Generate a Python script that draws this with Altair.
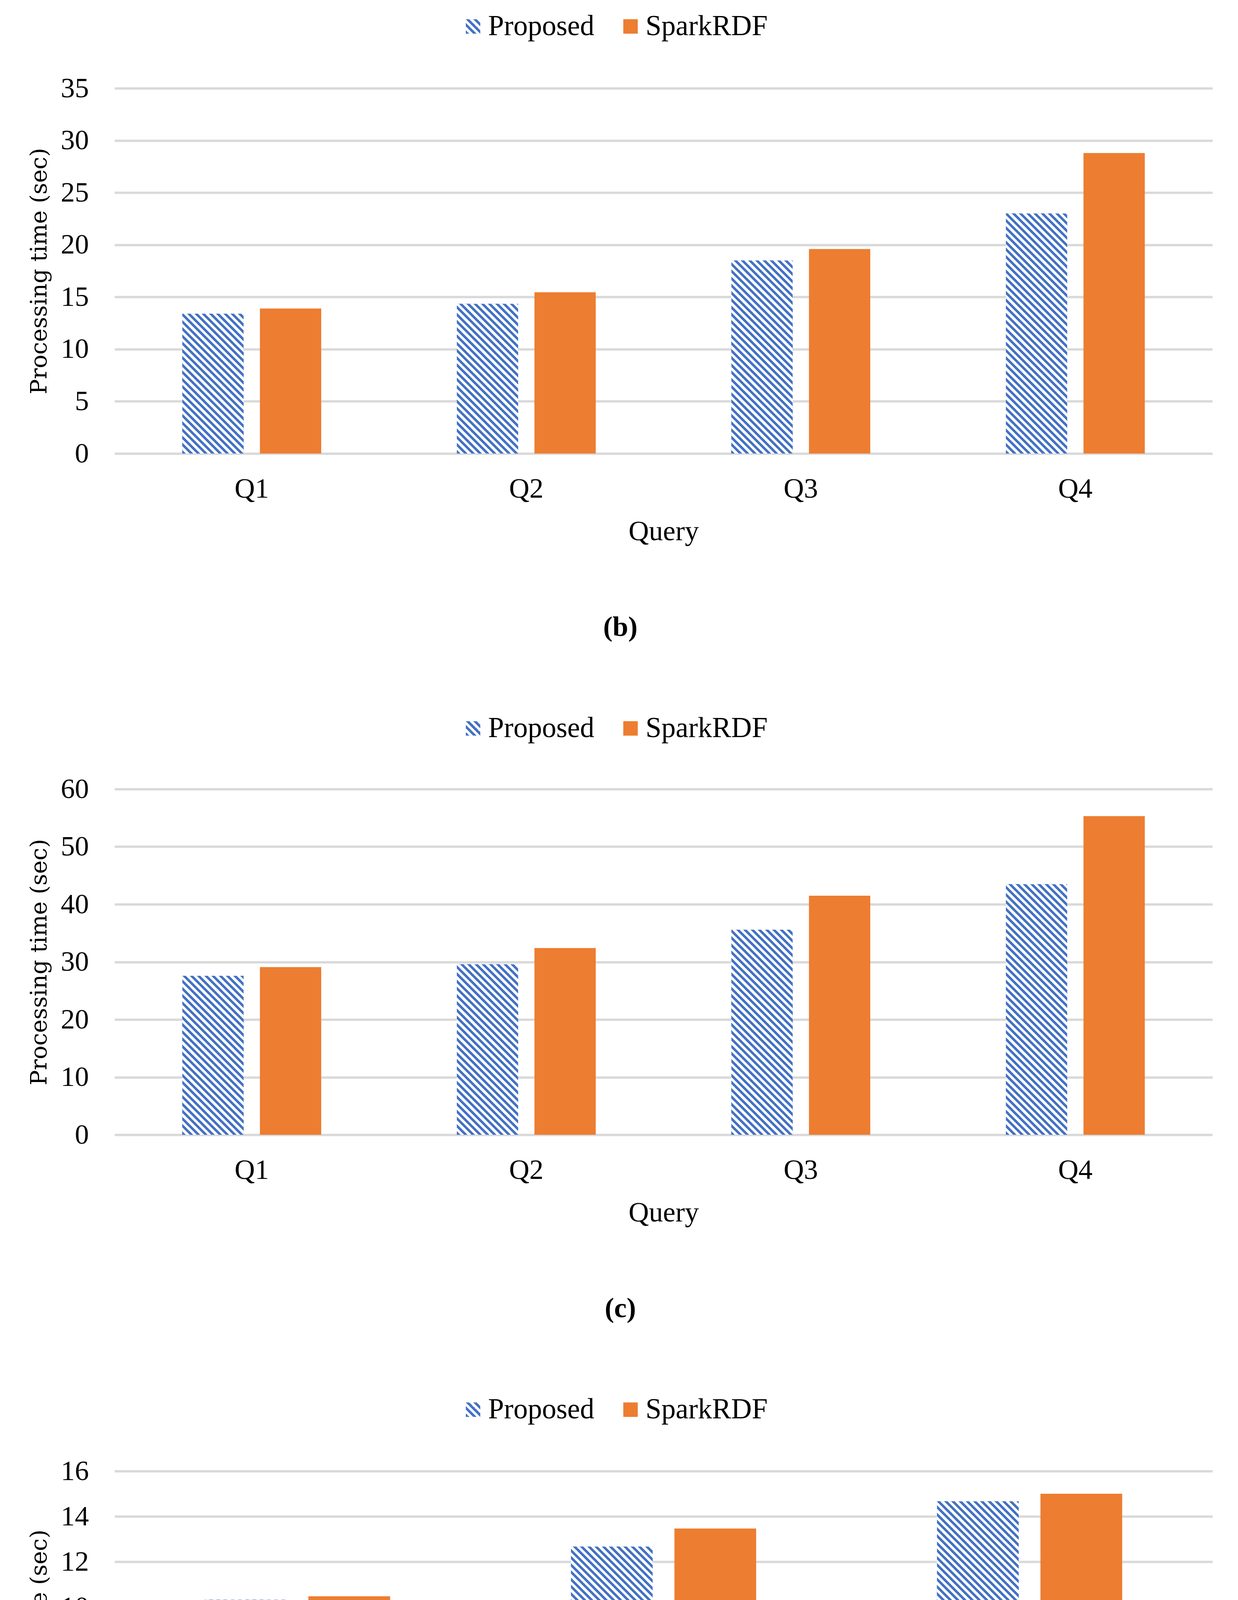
import altair as alt

FONT = "Liberation Serif"
TITLE_FONT = "DejaVu Serif"
BLUE = "#4472C4"
ORANGE = "#ED7D31"
GRID = "#D9D9D9"

series_names = ["Proposed", "SparkRDF"]

# Panel (b)
queries_b = ["Q1", "Q2", "Q3", "Q4"]
proposed_b = [13.4, 14.35, 18.5, 23.0]
spark_b = [13.9, 15.45, 19.6, 28.8]
ticks_b = [0, 5, 10, 15, 20, 25, 30, 35]

# Panel (c)
queries_c = ["Q1", "Q2", "Q3", "Q4"]
proposed_c = [27.6, 29.6, 35.6, 43.5]
spark_c = [29.1, 32.4, 41.5, 55.3]
ticks_c = [0, 10, 20, 30, 40, 50, 60]

# Panel (d)
queries_d = ["Q1", "Q2", "Q3"]
proposed_d = [10.33, 12.67, 14.67]
spark_d = [10.48, 13.47, 15.0]
ticks_d = [0, 2, 4, 6, 8, 10, 12, 14, 16]

W = 2810
PAD_IN = 0.494
PAD_OUT = 0.247
SUB_PAD = 0.21
PERIOD = 18.5
SYMBOL = 37


def stripe_stops(L):
    stops = []
    k = 0
    while k * PERIOD < L:
        o0 = k * PERIOD / L
        o1 = min((k + 0.5) * PERIOD / L, 1.0)
        o2 = min((k + 1) * PERIOD / L, 1.0)
        stops += [(o0, BLUE), (o1, BLUE), (o1, "#FFFFFF"), (o2, "#FFFFFF")]
        k += 1
    return stops


def stripe_gradient(value, ymax, H, n):
    step = W / n
    band = step * (1 - PAD_IN)
    w = band / (2 - SUB_PAD) * (1 - SUB_PAD)
    h = value / ymax * H
    a = w * (w + h) / (w * w + h * h)
    stops = [{"offset": o, "color": c} for o, c in stripe_stops(w + h)]
    return {"gradient": "linear", "x1": 0, "y1": 1, "x2": a, "y2": 1 - a * h / w, "stops": stops}


def legend_gradient_expr():
    stops = ", ".join("{offset: %.5f, color: '%s'}" % (o, c) for o, c in stripe_stops(2 * SYMBOL))
    return "{gradient: 'linear', x1: 0, y1: 1, x2: 1, y2: 0, stops: [%s]}" % stops


def panel(label, queries, proposed, spark, ticks, H, legend_y):
    ymax = ticks[-1]
    n = len(queries)
    records = []
    for q, p, s in zip(queries, proposed, spark):
        records.append({"query": q, "series": "Proposed", "value": p})
        records.append({"query": q, "series": "SparkRDF", "value": s})
    stripes = [
        {"query": q, "series": "Proposed", "value": p, "pattern": stripe_gradient(p, ymax, H, n)}
        for q, p in zip(queries, proposed)
    ]

    x_axis = alt.Axis(
        title="Query", labelAngle=0, domain=False, ticks=False, tickSize=0,
        labelFont=FONT, labelFontSize=72, labelColor="black", labelPadding=55,
        titleFont=FONT, titleFontSize=72, titleFontWeight="normal", titleColor="black",
        titlePadding=38,
    )
    y_axis = alt.Axis(
        values=ticks, title="Processing time (sec)", domain=False, ticks=False, tickSize=0,
        grid=True, gridColor=GRID, gridWidth=6,
        labelFont=FONT, labelFontSize=72, labelColor="black", labelPadding=66,
        titleFont=TITLE_FONT, titleFontSize=58, titleFontWeight="normal", titleColor="black",
        titlePadding=25,
    )
    xs = alt.Scale(paddingInner=PAD_IN, paddingOuter=PAD_OUT)
    xos = alt.Scale(domain=series_names, paddingInner=SUB_PAD, paddingOuter=0)
    ys = alt.Scale(domain=[0, ymax], nice=False)

    base = alt.Chart(alt.Data(values=records)).mark_bar().encode(
        x=alt.X("query:N", sort=queries, scale=xs, axis=x_axis),
        xOffset=alt.XOffset("series:N", sort=series_names, scale=xos),
        y=alt.Y("value:Q", scale=ys, axis=y_axis),
        color=alt.Color(
            "series:N",
            scale=alt.Scale(domain=series_names, range=[{"expr": legend_gradient_expr()}, ORANGE]),
            legend=alt.Legend(
                title=None, orient="none", direction="horizontal",
                legendX=881, legendY=legend_y,
                labelFont=FONT, labelFontSize=73, labelColor="black", labelLimit=0,
                symbolType="square", symbolSize=SYMBOL * SYMBOL, symbolStrokeWidth=0,
                labelOffset=2, columnPadding=56, padding=0,
            ),
        ),
    )
    over = alt.Chart(alt.Data(values=stripes)).mark_bar().encode(
        x=alt.X("query:N", sort=queries, scale=xs, axis=x_axis),
        xOffset=alt.XOffset("series:N", sort=series_names, scale=xos),
        y=alt.Y("value:Q", scale=ys, axis=y_axis),
        fill=alt.Fill("pattern:N", scale=None),
    )
    return alt.layer(base, over).properties(
        width=W, height=H,
        title=alt.TitleParams(
            label, orient="bottom", anchor="middle", frame="bounds",
            font=FONT, fontSize=72, fontWeight="bold", color="black", offset=175,
        ),
    )


chart = alt.vconcat(
    panel("(b)", queries_b, proposed_b, spark_b, ticks_b, 935, -195),
    panel("(c)", queries_c, proposed_c, spark_c, ticks_c, 885, -192),
    panel("(d)", queries_d, proposed_d, spark_d, ticks_d, 929, -194),
    spacing=186,
).resolve_scale(
    color="independent", x="independent", y="independent", xOffset="independent"
).resolve_legend(color="independent").configure_view(stroke=None).properties(
    padding={"left": 64, "top": 23, "right": 0, "bottom": 0}, background="white"
)

chart.save("out.html", embed_options={"renderer": "svg", "actions": False})
